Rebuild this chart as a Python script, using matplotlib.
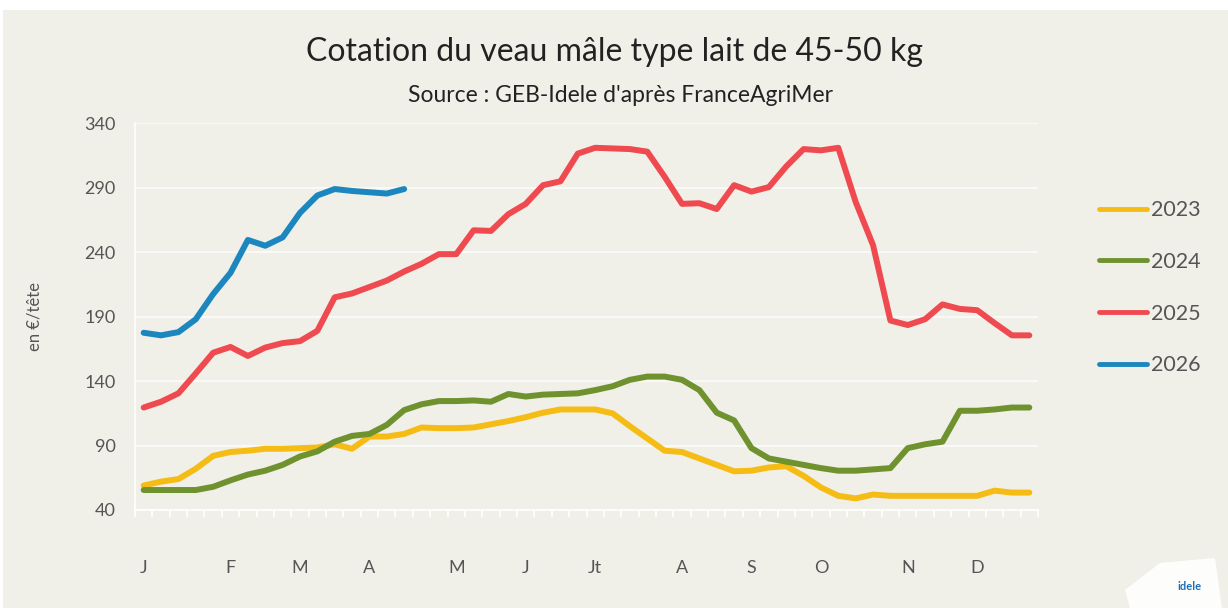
import matplotlib
matplotlib.use("Agg")
import matplotlib.pyplot as plt
from matplotlib.patches import Rectangle, Polygon
import numpy as np

# weekly quotes, EUR per head
weeks = list(range(52))
v2023 = [59, 62, 64, 72, 82, 85, 86, 87.5, 87.5, 88, 88.5, 91, 87.5, 97, 97, 99,
         104, 103.5, 103.5, 104, 106.5, 109, 112, 115.5, 118, 118, 118, 115,
         105, 95.5, 86, 85, 80, 75, 70, 70.5, 73, 74, 66.5, 57.5, 51, 49,
         52, 51, 51, 51, 51, 51, 51, 55, 53.5, 53.5]
v2024 = [55.5, 55.5, 55.5, 55.5, 58, 63, 67.5, 70.5, 75, 81.5, 85.5, 93, 97.5,
         99, 106, 117.5, 122, 124.5, 124.5, 125, 124, 130, 128, 129.5, 130,
         130.5, 133, 136, 141, 143.5, 143.5, 141, 133, 115.5, 109.5, 88, 80,
         77.5, 75, 72.5, 70.5, 70.5, 71.5, 72.5, 88, 91, 93, 117, 117, 118,
         119.5, 119.5]
v2025 = [119.5, 124, 130.5, 146, 162, 166.5, 159.5, 166, 169.5, 171, 179, 205,
         208, 213, 218, 225, 231, 238.5, 238.5, 257, 256.5, 269.5, 277.5, 292,
         295, 316.5, 321, 320.5, 320, 318, 298.5, 277.5, 278, 273.5, 292, 287,
         290.5, 306.5, 320, 319, 321, 279, 245.5, 187, 183.5, 188, 199.5, 196,
         195, 185, 175.5, 175.5]
v2026 = [177.5, 175.5, 178, 188, 207.5, 224, 249.5, 245, 251.5, 270.5, 284,
         289, 287.5, 286.5, 285.5, 289]

series = [("2023", v2023, "#F6BC16"),
          ("2024", v2024, "#6F922F"),
          ("2025", v2025, "#EF4A50"),
          ("2026", v2026, "#1C86BF")]

month_pos = [0, 5, 9, 13, 18, 22, 26, 31, 35, 39, 44, 48]
month_lab = ["J", "F", "M", "A", "M", "J", "Jt", "A", "S", "O", "N", "D"]
yticks = [40, 90, 140, 190, 240, 290, 340]

bg = "#F0F0E9"
grey = "#555555"
plt.rcParams['font.family'] = ['Lato', 'DejaVu Sans']

fig = plt.figure(figsize=(12.28, 6.08), dpi=100, facecolor="white")
fig.patches.append(Rectangle((3 / 1228, 0), 1, 1 - 10 / 608, transform=fig.transFigure,
                             facecolor=bg, edgecolor="none", zorder=-10))

ax = fig.add_axes([135 / 1228, 1 - 510 / 608, (1038 - 135) / 1228, (510 - 123.3) / 608])
ax.set_facecolor(bg)
for name, vals, col in series:
    ax.plot(range(len(vals)), vals, color=col, lw=4.3, solid_capstyle="round",
            solid_joinstyle="round", label=name)

ax.set_xlim(-0.5, 51.5)
ax.set_ylim(40, 340)
ax.set_yticks(yticks)
ax.tick_params(axis="y", length=0, labelsize=13, labelcolor=grey, pad=14)
ax.set_xticks(month_pos)
ax.set_xticklabels(month_lab)
ax.set_xticks(np.arange(-0.5, 52, 1), minor=True)
ax.tick_params(axis="x", which="major", length=0, labelsize=13, labelcolor=grey, pad=36)
ax.tick_params(axis="x", which="minor", length=5, color="white", width=1.2)
ax.grid(axis="y", color="white", lw=1.2, alpha=0.8)
ax.set_axisbelow(True)
for s in ["top", "right"]:
    ax.spines[s].set_visible(False)
ax.spines["left"].set_color("white")
ax.spines["bottom"].set_color("white")
ax.spines["left"].set_linewidth(1.2)
ax.spines["bottom"].set_linewidth(1.2)

ax.set_ylabel("en €/tête", fontsize=12, color=grey, labelpad=30)

leg = fig.legend(loc="upper left", bbox_to_anchor=(1080 / 1228, 1 - 181 / 608),
                 frameon=False, fontsize=15.5, labelcolor=grey, handlelength=2.2,
                 handletextpad=0.2, labelspacing=1.47)
for h in leg.get_lines():
    h.set_linewidth(3.5)

fig.text(614 / 1228, 1 - 52 / 608, "Cotation du veau mâle type lait de 45-50 kg",
         ha="center", va="center", fontsize=23, color="#222222")
fig.text(620 / 1228, 1 - 95 / 608, "Source : GEB-Idele d'après FranceAgriMer",
         ha="center", va="center", fontsize=16.5, color="#222222")

# logo blob bottom right
fig.patches.append(Polygon([(1125 / 1228, 18 / 608), (1160 / 1228, 45 / 608),
                            (1215 / 1228, 50 / 608), (1222 / 1228, 0), (1130 / 1228, 0)],
                           closed=True, transform=fig.transFigure, facecolor="white",
                           edgecolor="none", alpha=0.9))
fig.text(1190 / 1228, 1 - 587 / 608, "idele", fontsize=8, color="#1C6FB8",
         weight="bold", ha="center", va="center")

fig.savefig("out.png", dpi=100, facecolor=fig.get_facecolor())
